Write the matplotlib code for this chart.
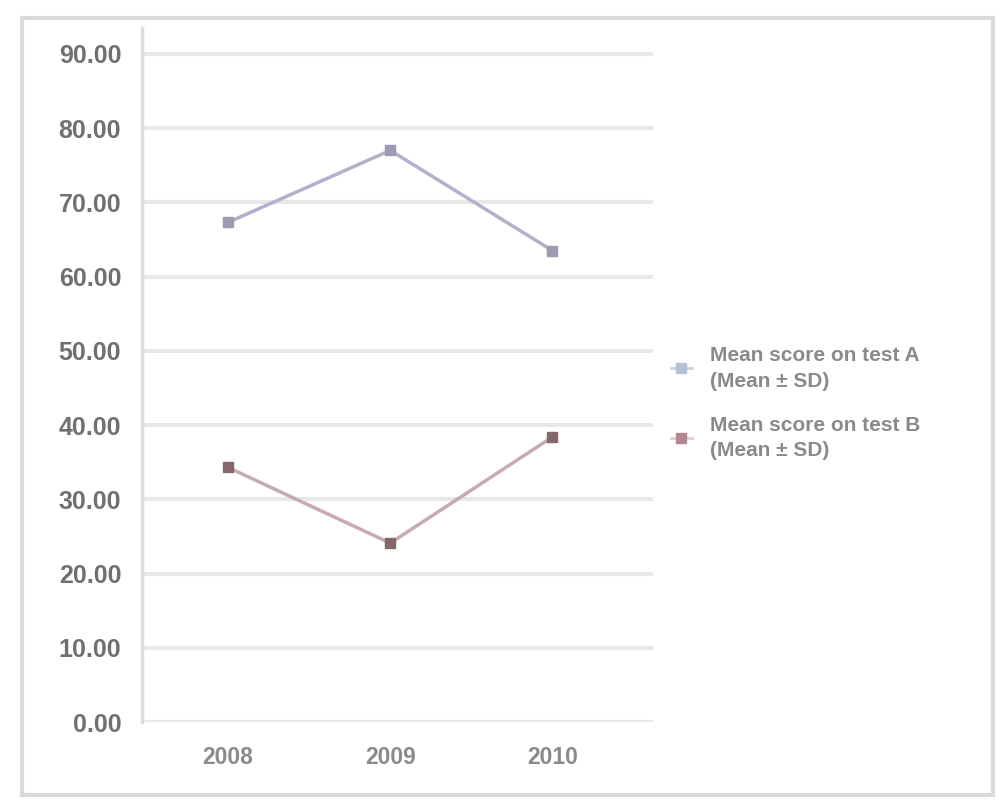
import matplotlib
matplotlib.use("Agg")
import matplotlib.pyplot as plt
from matplotlib.lines import Line2D
from matplotlib.patches import Rectangle

plt.rcParams['font.family'] = ['Liberation Sans', 'DejaVu Sans']

years = ["2008", "2009", "2010"]
test_a = [67.3, 77.0, 63.5]
test_b = [34.3, 24.1, 38.4]
yticks = [0, 10, 20, 30, 40, 50, 60, 70, 80, 90]
labels = ["Mean score on test A\n(Mean \u00b1 SD)", "Mean score on test B\n(Mean \u00b1 SD)"]

fig = plt.figure(figsize=(10.03, 8.09), dpi=100)
ax = fig.add_axes([0.1416, 0.1075, 0.5095, 0.858])

x = list(range(len(years)))
ax.plot(x, test_a, color="#b4b0cc", lw=2.5, marker="s", ms=7,
        mfc="#9e9ab2", mec="#9e9ab2", zorder=3)
ax.plot(x, test_b, color="#c8aab2", lw=2.5, marker="s", ms=7,
        mfc="#86686c", mec="#86686c", zorder=3)

ax.set_xlim(-0.53, 2.62)
ax.set_ylim(0, 93.5)
ax.set_xticks(x)
ax.set_xticklabels(years, fontsize=16.5, color="#8a8a8a", fontweight="bold")
ax.set_yticks(yticks)
ax.set_yticklabels([f"{v:.2f}" for v in yticks], fontsize=18,
                   color="#707070", fontweight="bold")
ax.tick_params(axis="both", length=0)
ax.tick_params(axis="y", pad=15)
ax.tick_params(axis="x", pad=17)

ax.yaxis.grid(True, color="#e8e8e8", lw=3)
ax.set_axisbelow(True)
for side in ["top", "right", "bottom"]:
    ax.spines[side].set_visible(False)
ax.spines["left"].set_color("#dcdcdc")
ax.spines["left"].set_linewidth(2.5)

handles = [
    Line2D([], [], color="#c8d4e4", lw=2, marker="s", ms=7,
           mfc="#b4c0d4", mec="#b4c0d4"),
    Line2D([], [], color="#f0c8cc", lw=2, marker="s", ms=7,
           mfc="#b08890", mec="#b08890"),
]
leg = fig.legend(handles, labels, loc="center left",
                 bbox_to_anchor=(0.650, 1 - 403 / 809), frameon=False,
                 labelcolor="#8a8a8a", handlelength=1.0,
                 handletextpad=0.9, labelspacing=1.2,
                 prop={"weight": "bold", "size": 15})
for t in leg.get_texts():
    t.set_linespacing(1.45)

# chart area border
fig.patches.append(Rectangle((22 / 1003, 1 - 795 / 809), 971 / 1003, 777 / 809,
                             transform=fig.transFigure, fill=False,
                             edgecolor="#dadada", lw=3))

fig.savefig("out.png", dpi=100)
